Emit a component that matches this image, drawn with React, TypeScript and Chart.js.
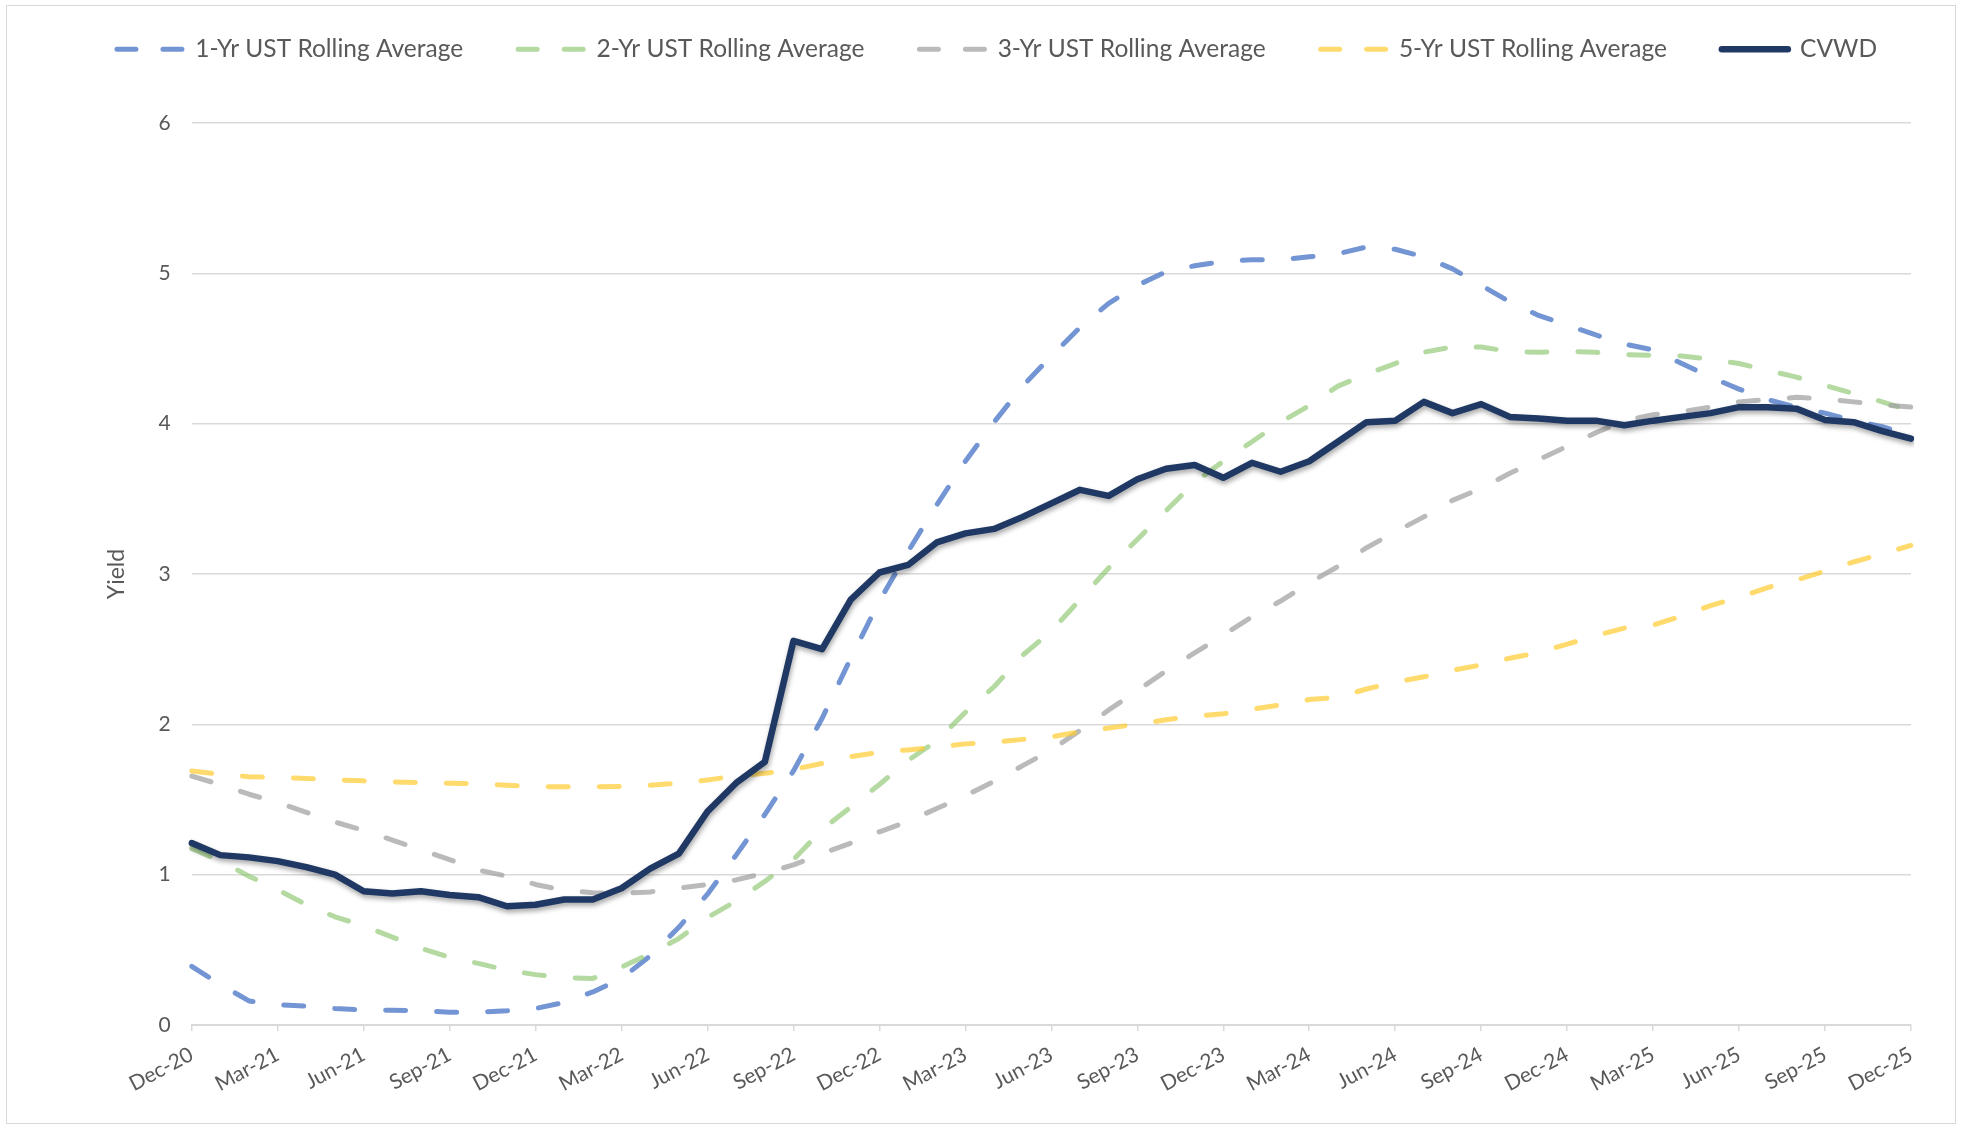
import React, { useEffect, useRef } from 'react';
import { Chart, registerables } from 'chart.js';

Chart.register(...registerables);

const months = [
  'Dec-20', 'Jan-21', 'Feb-21', 'Mar-21', 'Apr-21', 'May-21', 'Jun-21', 'Jul-21', 'Aug-21', 'Sep-21', 'Oct-21', 'Nov-21',
  'Dec-21', 'Jan-22', 'Feb-22', 'Mar-22', 'Apr-22', 'May-22', 'Jun-22', 'Jul-22', 'Aug-22', 'Sep-22', 'Oct-22', 'Nov-22',
  'Dec-22', 'Jan-23', 'Feb-23', 'Mar-23', 'Apr-23', 'May-23', 'Jun-23', 'Jul-23', 'Aug-23', 'Sep-23', 'Oct-23', 'Nov-23',
  'Dec-23', 'Jan-24', 'Feb-24', 'Mar-24', 'Apr-24', 'May-24', 'Jun-24', 'Jul-24', 'Aug-24', 'Sep-24', 'Oct-24', 'Nov-24',
  'Dec-24', 'Jan-25', 'Feb-25', 'Mar-25', 'Apr-25', 'May-25', 'Jun-25', 'Jul-25', 'Aug-25', 'Sep-25', 'Oct-25', 'Nov-25',
  'Dec-25',
];

const oneYr = [
  0.39, 0.27, 0.16, 0.135, 0.125, 0.11, 0.10, 0.098, 0.095, 0.085, 0.085, 0.095,
  0.11, 0.15, 0.22, 0.31, 0.46, 0.65, 0.87, 1.13, 1.40, 1.69, 2.04, 2.44,
  2.82, 3.15, 3.46, 3.75, 4.01, 4.25, 4.45, 4.64, 4.80, 4.92, 5.01, 5.05,
  5.08, 5.09, 5.09, 5.11, 5.13, 5.175, 5.16, 5.11, 5.03, 4.92, 4.81, 4.72,
  4.655, 4.59, 4.53, 4.49, 4.40, 4.31, 4.23, 4.16, 4.11, 4.07, 4.02, 3.98,
  3.92,
];

const twoYr = [
  1.175, 1.09, 0.99, 0.90, 0.80, 0.72, 0.66, 0.585, 0.51, 0.45, 0.41, 0.365,
  0.335, 0.315, 0.31, 0.385, 0.475, 0.575, 0.715, 0.825, 0.955, 1.10, 1.30, 1.45,
  1.60, 1.76, 1.89, 2.08, 2.25, 2.46, 2.62, 2.83, 3.04, 3.23, 3.42, 3.61,
  3.75, 3.88, 4.01, 4.12, 4.25, 4.33, 4.40, 4.475, 4.51, 4.51, 4.48, 4.475,
  4.48, 4.475, 4.46, 4.455, 4.45, 4.43, 4.40, 4.355, 4.31, 4.255, 4.20, 4.145,
  4.085,
];

const threeYr = [
  1.655, 1.60, 1.535, 1.48, 1.415, 1.35, 1.295, 1.23, 1.165, 1.10, 1.03, 0.99,
  0.935, 0.895, 0.88, 0.875, 0.885, 0.91, 0.935, 0.965, 1.01, 1.065, 1.14, 1.21,
  1.285, 1.355, 1.44, 1.525, 1.62, 1.725, 1.83, 1.96, 2.095, 2.225, 2.355, 2.475,
  2.595, 2.715, 2.82, 2.94, 3.05, 3.175, 3.28, 3.38, 3.49, 3.57, 3.67, 3.76,
  3.85, 3.94, 4.02, 4.06, 4.08, 4.11, 4.145, 4.16, 4.175, 4.165, 4.145, 4.125,
  4.11,
];

const fiveYr = [
  1.69, 1.667, 1.652, 1.646, 1.64, 1.63, 1.624, 1.617, 1.613, 1.608, 1.606, 1.595,
  1.586, 1.584, 1.584, 1.586, 1.595, 1.608, 1.63, 1.656, 1.674, 1.70, 1.74, 1.785,
  1.814, 1.83, 1.85, 1.87, 1.88, 1.90, 1.917, 1.95, 1.976, 2.0, 2.03, 2.055,
  2.07, 2.10, 2.13, 2.165, 2.18, 2.235, 2.28, 2.316, 2.36, 2.395, 2.44, 2.478,
  2.533, 2.59, 2.64, 2.66, 2.72, 2.79, 2.845, 2.91, 2.96, 3.02, 3.08, 3.135,
  3.19,
];

const cvwd = [
  1.21, 1.13, 1.115, 1.09, 1.05, 1.00, 0.89, 0.875, 0.89, 0.865, 0.85, 0.79,
  0.80, 0.835, 0.835, 0.91, 1.04, 1.14, 1.42, 1.61, 1.75, 2.555, 2.50, 2.83,
  3.01, 3.06, 3.21, 3.27, 3.30, 3.38, 3.47, 3.56, 3.52, 3.63, 3.70, 3.725,
  3.64, 3.74, 3.68, 3.75, 3.88, 4.01, 4.02, 4.145, 4.07, 4.13, 4.045, 4.035,
  4.02, 4.02, 3.99, 4.02, 4.045, 4.07, 4.11, 4.11, 4.10, 4.025, 4.01, 3.95,
  3.90,
];

const seriesNames = [
  '1-Yr UST Rolling Average',
  '2-Yr UST Rolling Average',
  '3-Yr UST Rolling Average',
  '5-Yr UST Rolling Average',
  'CVWD',
];

const yTicks = [0, 1, 2, 3, 4, 5, 6];

const FONT = "Lato, 'Open Sans', sans-serif";
const TEXT = '#595959';
const GRID = '#d9d9d9';

export default function App() {
  const ref = useRef<HTMLCanvasElement>(null);

  useEffect(() => {
    if (!ref.current) return;

    const legendHeight = {
      id: 'legendHeight',
      afterInit(chart: any) {
        const lg = chart.legend;
        if (lg && !lg.__wrapped) {
          const origFit = lg.fit;
          lg.fit = function () {
            const mw = this.maxWidth;
            this.maxWidth = mw + 400;
            origFit.call(this);
            this.maxWidth = mw;
            this.width = mw;
            this.height = 141;
          };
          const origDraw = lg.draw;
          lg.draw = function () {
            const l = this.left;
            const r = this.right;
            this.left = l - 200;
            this.right = r + 200;
            origDraw.call(this);
            this.left = l;
            this.right = r;
          };
          lg.__wrapped = true;
        }
      },
    };

    const lineShadow = {
      id: 'lineShadow',
      beforeDatasetDraw(chart: any, args: any) {
        if (args.index === 4) {
          const ctx = chart.ctx;
          ctx.save();
          ctx.shadowColor = 'rgba(0,0,0,0.35)';
          ctx.shadowBlur = 5;
          ctx.shadowOffsetX = 1;
          ctx.shadowOffsetY = 3;
        }
      },
      afterDatasetDraw(chart: any, args: any) {
        if (args.index === 4) chart.ctx.restore();
      },
    };

    const dashed = (color: string, order: number, label: string, data: number[]) => ({
      label,
      data,
      borderColor: color,
      backgroundColor: color,
      borderWidth: 5,
      borderDash: [20, 31],
      borderCapStyle: 'round' as const,
      borderJoinStyle: 'round' as const,
      pointRadius: 0,
      pointStyle: 'line' as const,
      tension: 0,
      fill: false,
      order,
    });

    const chart = new Chart(ref.current, {
      type: 'line',
      data: {
        labels: months,
        datasets: [
          dashed('rgba(68,114,196,0.75)', 5, seriesNames[0], oneYr),
          dashed('rgba(140,196,110,0.65)', 4, seriesNames[1], twoYr),
          dashed('rgba(160,160,160,0.72)', 3, seriesNames[2], threeYr),
          dashed('rgba(255,200,40,0.68)', 2, seriesNames[3], fiveYr),
          {
            label: seriesNames[4],
            data: cvwd,
            borderColor: '#1f3864',
            backgroundColor: '#1f3864',
            borderWidth: 6.5,
            borderCapStyle: 'round',
            borderJoinStyle: 'round',
            pointRadius: 0,
            pointStyle: 'line',
            tension: 0,
            fill: false,
            order: 1,
          },
        ],
      },
      options: {
        responsive: false,
        animation: false,
        events: [],
        layout: { padding: { top: -18, left: 83, right: 54, bottom: 0 } },
        plugins: {
          legend: {
            display: true,
            position: 'top',
            labels: {
              usePointStyle: true,
              pointStyleWidth: 66,
              padding: 55,
              color: TEXT,
              font: { family: FONT, size: 24.5 },
              sort: (a: any, b: any) => a.datasetIndex - b.datasetIndex,
              generateLabels: (c: any) => {
                const items = Chart.defaults.plugins.legend.labels.generateLabels(c);
                return items.map((it: any) => ({
                  ...it,
                  lineDash: it.datasetIndex === 4 ? [] : [19, 27],
                  lineCap: 'round',
                }));
              },
            },
          },
          tooltip: { enabled: false },
        },
        scales: {
          x: {
            type: 'category',
            offset: false,
            grid: {
              display: true,
              drawOnChartArea: false,
              drawTicks: true,
              tickLength: 6,
              color: GRID,
              lineWidth: 1.5,
            },
            border: { display: true, color: GRID, width: 2 },
            ticks: {
              autoSkip: false,
              minRotation: 28,
              maxRotation: 28,
              padding: 11,
              color: TEXT,
              font: { family: FONT, size: 21 },
              callback: (_v: any, index: number) => (index % 3 === 0 ? months[index] : null),
            },
            afterFit: (scale: any) => {
              scale.height = 101;
            },
          },
          y: {
            min: yTicks[0],
            max: yTicks[yTicks.length - 1],
            ticks: {
              stepSize: 1,
              padding: 21,
              color: TEXT,
              font: { family: FONT, size: 21 },
            },
            grid: { color: GRID, lineWidth: 1.5, drawTicks: false },
            border: { display: false },
            title: {
              display: true,
              text: 'Yield',
              color: TEXT,
              font: { family: FONT, size: 23 },
              padding: { top: 20, bottom: 0 },
            },
            afterFit: (scale: any) => {
              scale.width = 108.7;
            },
          },
        },
      },
      plugins: [legendHeight, lineShadow],
    } as any);

    return () => chart.destroy();
  }, []);

  return (
    <div style={{ position: 'absolute', left: 0, top: 0, width: 1965, height: 1126, background: '#ffffff', overflow: 'hidden' }}>
      <div
        style={{
          position: 'absolute',
          left: 6,
          top: 5,
          width: 1950,
          height: 1119,
          border: '1.5px solid #d9d9d9',
          boxSizing: 'border-box',
        }}
      />
      <canvas ref={ref} width={1965} height={1126} style={{ position: 'absolute', left: 0, top: 0 }} />
    </div>
  );
}
